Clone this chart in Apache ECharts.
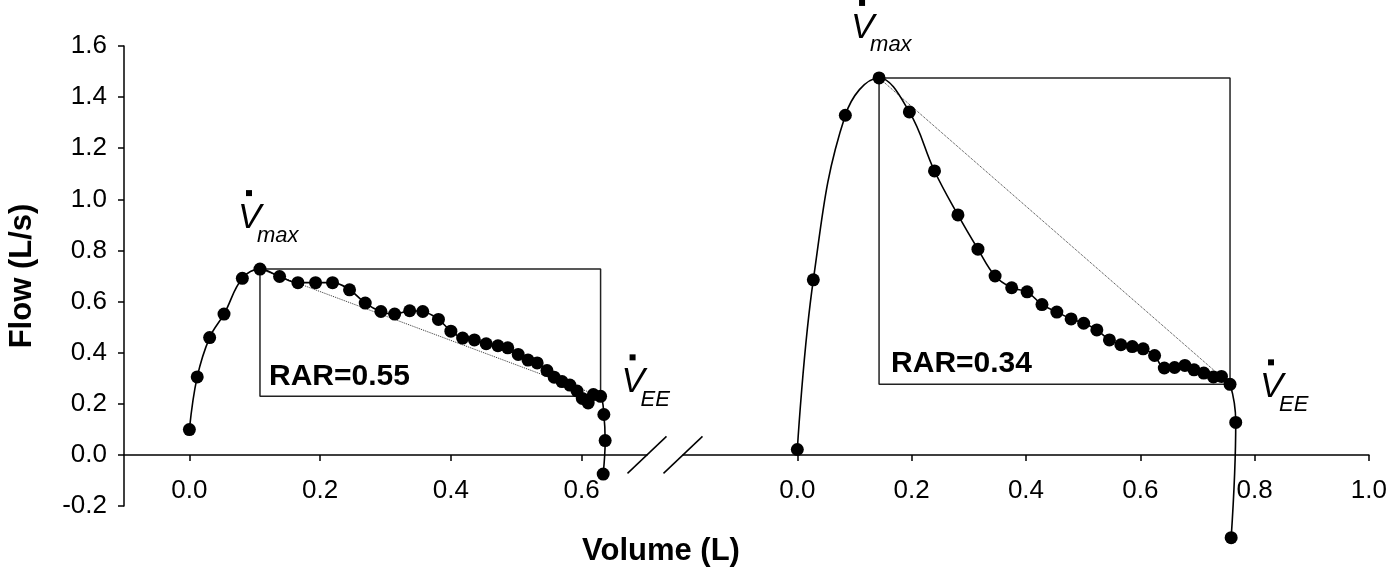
<!DOCTYPE html>
<html>
<head>
<meta charset="utf-8">
<script src="https://cdn.jsdelivr.net/npm/echarts@6/dist/echarts.min.js"></script>
<style>
  html, body { margin: 0; padding: 0; background: #fff; }
  #chart { width: 1390px; height: 580px; }
</style>
</head>
<body>
<div id="chart"></div>
<script>
// left loop (lower flow)
const leftVolume = [0.000,0.012,0.031,0.053,0.081,0.108,0.138,0.166,0.193,0.219,0.245,0.269,0.293,0.314,0.337,0.357,0.381,0.400,0.418,0.436,0.454,0.472,0.487,0.503,0.518,0.532,0.547,0.558,0.570,0.582,0.593,0.601,0.610,0.618,0.629,0.634,0.636,0.633];
const leftFlow = [0.099,0.305,0.459,0.551,0.691,0.727,0.698,0.674,0.674,0.674,0.646,0.594,0.561,0.551,0.564,0.561,0.530,0.484,0.457,0.450,0.435,0.427,0.419,0.393,0.371,0.360,0.330,0.304,0.287,0.273,0.250,0.221,0.203,0.236,0.229,0.158,0.056,-0.075];
const leftPeakIndex = 5, leftEndIndex = 34;
const leftRAR = 'RAR=0.55';

// right loop (higher flow)
const rightVolume = [0.000,0.028,0.084,0.143,0.196,0.240,0.281,0.316,0.346,0.375,0.402,0.428,0.454,0.479,0.501,0.524,0.546,0.566,0.586,0.605,0.625,0.642,0.660,0.678,0.694,0.711,0.728,0.742,0.757,0.767,0.759];
const rightFlow = [0.021,0.685,1.329,1.475,1.342,1.111,0.939,0.805,0.700,0.654,0.638,0.588,0.559,0.532,0.515,0.489,0.450,0.431,0.424,0.415,0.389,0.340,0.342,0.350,0.333,0.320,0.305,0.307,0.276,0.127,-0.324];
const rightPeakIndex = 3, rightEndIndex = 28;
const rightRAR = 'RAR=0.34';

const leftTicks = [0, 0.2, 0.4, 0.6];
const rightTicks = [0, 0.2, 0.4, 0.6, 0.8, 1.0];
const flowMin = -0.2, flowMax = 1.6;

const FONT = '"Liberation Sans", Arial, sans-serif';
const GRID_H = 460;
const chart = echarts.init(document.getElementById('chart'), null, {renderer: 'canvas'});

function pairs(xs, ys){ return xs.map((x, i) => [x, ys[i]]); }
function boxOf(pts, a, b){
  const p = pts[a], q = pts[b];
  return [p, [q[0], p[1]], q, [p[0], q[1]], p];
}

const leftPts = pairs(leftVolume, leftFlow);
const rightPts = pairs(rightVolume, rightFlow);

// x axes sit on flow = 0
const zeroOffset = -(0 - flowMin) / (flowMax - flowMin) * GRID_H;

function xAxisFor(grid, min, max, ticks){
  return {
    gridIndex: grid, type: 'value', min: min, max: max, offset: zeroOffset,
    axisLine: {onZero: false, lineStyle: {color: '#000', width: 1.5}},
    axisTick: {customValues: ticks, length: 6, lineStyle: {color: '#000', width: 1.5}},
    axisLabel: {customValues: ticks, margin: 23, color: '#000', fontSize: 26, fontFamily: FONT,
      formatter: v => v.toFixed(1)},
    splitLine: {show: false}
  };
}

function curve(xi, pts){
  return {
    type: 'line', xAxisIndex: xi, yAxisIndex: xi, data: pts,
    smooth: 0.4, clip: false, z: 5,
    symbol: 'circle', symbolSize: 13,
    itemStyle: {color: '#000'},
    lineStyle: {color: '#000', width: 1.6}
  };
}
function box(xi, pts, a, b){
  return {
    type: 'line', xAxisIndex: xi, yAxisIndex: xi, data: boxOf(pts, a, b),
    symbol: 'none', z: 2, silent: true,
    lineStyle: {color: '#222', width: 1.5}
  };
}
function chord(xi, pts, a, b){
  return {
    type: 'line', xAxisIndex: xi, yAxisIndex: xi, data: [pts[a], pts[b]],
    symbol: 'none', z: 1, silent: true,
    lineStyle: {color: '#333', width: 1, type: 'dotted'}
  };
}

chart.setOption({
  backgroundColor: '#fff',
  animation: false,
  grid: [
    {left: 124, top: 46, width: 523, height: GRID_H},
    {left: 683, top: 46, width: 688, height: GRID_H}
  ],
  xAxis: [
    xAxisFor(0, -0.1, 0.7, leftTicks),
    xAxisFor(1, -0.2, 1.0, rightTicks)
  ],
  yAxis: [
    {
      gridIndex: 0, type: 'value', min: flowMin, max: flowMax, interval: 0.2,
      name: 'Flow (L/s)', nameLocation: 'middle', nameGap: 86,
      nameTextStyle: {fontSize: 31, fontWeight: 'bold', color: '#000', fontFamily: FONT},
      axisLine: {show: true, onZero: false, lineStyle: {color: '#000', width: 1.5}},
      axisTick: {show: true, length: 6, lineStyle: {color: '#000', width: 1.5}},
      axisLabel: {margin: 17, color: '#000', fontSize: 26, fontFamily: FONT, formatter: v => v.toFixed(1)},
      splitLine: {show: false}
    },
    {gridIndex: 1, type: 'value', min: flowMin, max: flowMax, show: false}
  ],
  series: [
    chord(0, leftPts, leftPeakIndex, leftEndIndex),
    box(0, leftPts, leftPeakIndex, leftEndIndex),
    curve(0, leftPts),
    chord(1, rightPts, rightPeakIndex, rightEndIndex),
    box(1, rightPts, rightPeakIndex, rightEndIndex),
    curve(1, rightPts)
  ]
});

// annotations placed from data coordinates
function px(xi, p){ return chart.convertToPixel({xAxisIndex: xi, yAxisIndex: xi}, p); }

function vDot(x, base, sub){
  return [
    {type: 'text', style: {text: 'V', x: x, y: base - 12, font: 'italic 35px ' + FONT, fill: '#000', textVerticalAlign: 'middle'}},
    {type: 'rect', shape: {x: x + 8, y: base - 40, width: 6, height: 6}, style: {fill: '#000'}},
    {type: 'text', style: {text: sub, x: x + 19, y: base + 13 - 7.7, font: 'italic 22px ' + FONT, fill: '#000', textVerticalAlign: 'middle'}}
  ];
}
function rarText(x, base, t){
  return {type: 'text', style: {text: t, x: x, y: base - 10.5, font: 'bold 30px ' + FONT, fill: '#000', textVerticalAlign: 'middle'}};
}
function slash(cx, cy){
  return {type: 'line', shape: {x1: cx - 19.5, y1: cy + 18.5, x2: cx + 19.5, y2: cy - 18.5}, style: {stroke: '#000', lineWidth: 1.5}};
}

const lPeak = px(0, leftPts[leftPeakIndex]), lEnd = px(0, leftPts[leftEndIndex]);
const rPeak = px(1, rightPts[rightPeakIndex]), rEnd = px(1, rightPts[rightEndIndex]);
const lBoxCorner = px(0, [leftPts[leftPeakIndex][0], leftPts[leftEndIndex][1]]);
const rBoxCorner = px(1, [rightPts[rightPeakIndex][0], rightPts[rightEndIndex][1]]);
const breakL = px(0, [0.7, 0]), breakR = px(1, [-0.2, 0]);

let g = [];
g = g.concat(vDot(lPeak[0] - 22, lPeak[1] - 39, 'max'));
g = g.concat(vDot(rPeak[0] - 28, rPeak[1] - 38, 'max'));
g = g.concat(vDot(lEnd[0] + 21, lEnd[1] - 2, 'EE'));
g = g.concat(vDot(rEnd[0] + 30, rEnd[1] + 15, 'EE'));
g.push(rarText(lBoxCorner[0] + 9, lBoxCorner[1] - 9, leftRAR));
g.push(rarText(rBoxCorner[0] + 12, rBoxCorner[1] - 10, rightRAR));
g.push(slash(breakL[0], breakL[1]));
g.push(slash(breakR[0], breakR[1]));
g.push({type: 'text', style: {text: 'Volume (L)', x: 661, y: 551, font: 'bold 31px ' + FONT, fill: '#000', textAlign: 'center', textVerticalAlign: 'middle'}});

chart.setOption({graphic: g.map(e => Object.assign({z: 100}, e))});
window.addEventListener('resize', () => chart.resize());
</script>
</body>
</html>
